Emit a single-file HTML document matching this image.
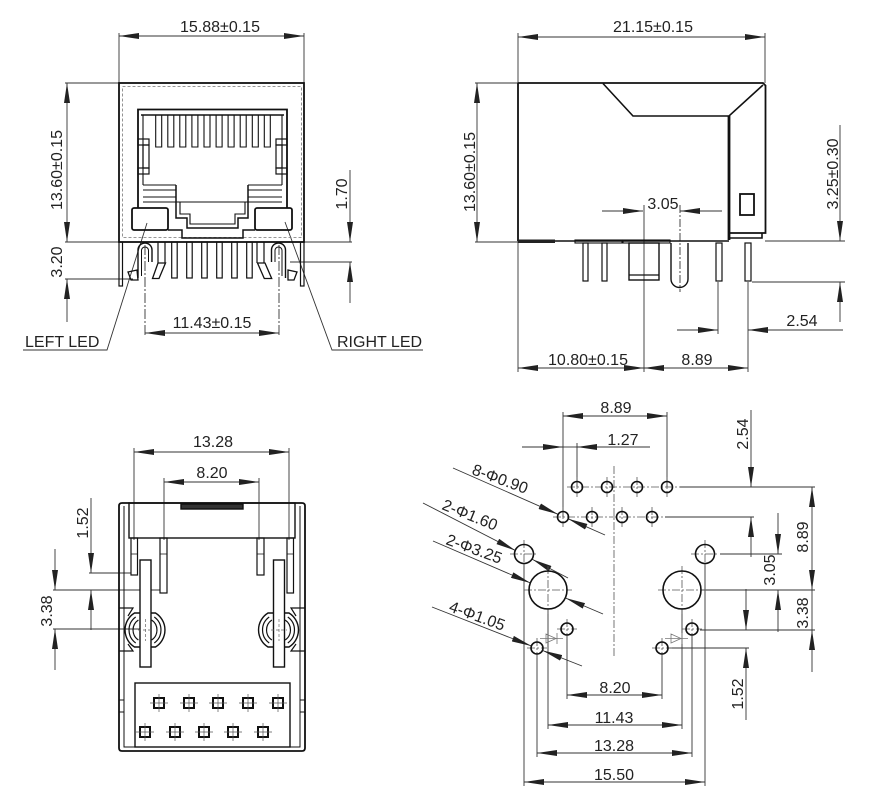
<!DOCTYPE html>
<html><head><meta charset="utf-8"><style>
html,body{margin:0;padding:0;background:#fff;}
svg{display:block;}
text{font-family:"Liberation Sans",Arial,sans-serif;font-size:16px;fill:#222;}
</style></head><body>
<svg width="871" height="801" viewBox="0 0 871 801" xmlns="http://www.w3.org/2000/svg">
<defs>
<marker id="a" viewBox="0 0 20 6" refX="20" refY="3" markerWidth="20" markerHeight="6" markerUnits="userSpaceOnUse" orient="auto-start-reverse"><path d="M0,0L20,3L0,6Z" fill="#222"/></marker>
</defs>

<!-- ================= DIMENSION LINES ================= -->
<g fill="none" stroke="#333" stroke-width="0.9">
<!-- View 1 -->
<line x1="119" y1="36" x2="304" y2="36" marker-start="url(#a)" marker-end="url(#a)"/>
<line x1="119" y1="33" x2="119" y2="83"/>
<line x1="304" y1="33" x2="304" y2="83"/>
<line x1="67" y1="83" x2="67" y2="242" marker-start="url(#a)" marker-end="url(#a)"/>
<line x1="65" y1="83" x2="119" y2="83"/>
<line x1="65" y1="242" x2="352" y2="242"/>
<line x1="67" y1="322" x2="67" y2="279" marker-end="url(#a)"/>
<line x1="65" y1="279" x2="133" y2="279"/>
<line x1="350" y1="170" x2="350" y2="242" marker-end="url(#a)"/>
<line x1="350" y1="303" x2="350" y2="262" marker-end="url(#a)"/>
<line x1="290" y1="262" x2="352" y2="262"/>
<line x1="145" y1="333" x2="279" y2="333" marker-start="url(#a)" marker-end="url(#a)"/>
<line x1="145" y1="245" x2="145" y2="336" stroke-dasharray="10,2,2,2"/>
<line x1="279" y1="245" x2="279" y2="336" stroke-dasharray="10,2,2,2"/>
<path d="M23,350 H107 L147,223"/>
<path d="M423,350 H332 L285,222"/>

<!-- View 2 -->
<line x1="518" y1="37" x2="765" y2="37" marker-start="url(#a)" marker-end="url(#a)"/>
<line x1="518" y1="33" x2="518" y2="372"/>
<line x1="765" y1="33" x2="765" y2="83"/>
<line x1="477" y1="83" x2="477" y2="242" marker-start="url(#a)" marker-end="url(#a)"/>
<line x1="475" y1="83" x2="518" y2="83"/>
<line x1="475" y1="242" x2="518" y2="242"/>
<line x1="602" y1="211" x2="643" y2="211" marker-end="url(#a)"/>
<line x1="722" y1="211" x2="680" y2="211" marker-end="url(#a)"/>
<line x1="644" y1="205" x2="644" y2="372"/>
<line x1="680" y1="205" x2="680" y2="292" stroke-dasharray="8,2,2,2"/>
<line x1="840" y1="125" x2="840" y2="241" marker-end="url(#a)"/>
<line x1="840" y1="322" x2="840" y2="282" marker-end="url(#a)"/>
<line x1="765" y1="241" x2="845" y2="241"/>
<line x1="752" y1="282" x2="845" y2="282"/>
<line x1="677" y1="330" x2="718" y2="330" marker-end="url(#a)"/>
<line x1="843" y1="330" x2="748" y2="330" marker-end="url(#a)"/>
<line x1="718" y1="282" x2="718" y2="334"/>
<line x1="748" y1="282" x2="748" y2="372"/>
<line x1="518" y1="368" x2="644" y2="368" marker-start="url(#a)" marker-end="url(#a)"/>
<line x1="644" y1="368" x2="748" y2="368" marker-start="url(#a)" marker-end="url(#a)"/>

<!-- View 3 -->
<line x1="134" y1="452" x2="289" y2="452" marker-start="url(#a)" marker-end="url(#a)"/>
<line x1="164" y1="482" x2="259" y2="482" marker-start="url(#a)" marker-end="url(#a)"/>
<line x1="134" y1="448" x2="134" y2="540"/>
<line x1="289" y1="448" x2="289" y2="540"/>
<line x1="164" y1="478" x2="164" y2="540"/>
<line x1="259" y1="478" x2="259" y2="540"/>
<line x1="91" y1="498" x2="91" y2="573" marker-end="url(#a)"/>
<line x1="91" y1="630" x2="91" y2="590" marker-end="url(#a)"/>
<line x1="89" y1="573" x2="131" y2="573"/>
<line x1="55" y1="549" x2="55" y2="590" marker-end="url(#a)"/>
<line x1="55" y1="670" x2="55" y2="629" marker-end="url(#a)"/>
<line x1="53" y1="590" x2="160" y2="590"/>
<line x1="53" y1="629" x2="143" y2="629"/>

<!-- View 4 -->
<line x1="563" y1="416" x2="667" y2="416" marker-start="url(#a)" marker-end="url(#a)"/>
<line x1="522" y1="447" x2="563" y2="447" marker-end="url(#a)"/>
<line x1="650" y1="447" x2="577" y2="447" marker-end="url(#a)"/>
<line x1="563" y1="447" x2="577" y2="447"/>
<line x1="563" y1="412" x2="563" y2="517"/>
<line x1="577" y1="443" x2="577" y2="487"/>
<line x1="667" y1="412" x2="667" y2="487"/>
<line x1="751" y1="410" x2="751" y2="487" marker-end="url(#a)"/>
<line x1="751" y1="557" x2="751" y2="517" marker-end="url(#a)"/>
<line x1="812" y1="487" x2="812" y2="590" marker-start="url(#a)" marker-end="url(#a)"/>
<line x1="812" y1="672" x2="812" y2="630" marker-end="url(#a)"/>
<line x1="812" y1="590" x2="812" y2="630"/>
<line x1="778" y1="513" x2="778" y2="554" marker-end="url(#a)"/>
<line x1="778" y1="632" x2="778" y2="590" marker-end="url(#a)"/>
<line x1="746" y1="589" x2="746" y2="630" marker-end="url(#a)"/>
<line x1="746" y1="720" x2="746" y2="648" marker-end="url(#a)"/>
<line x1="680" y1="487" x2="815" y2="487"/>
<line x1="665" y1="517" x2="754" y2="517"/>
<line x1="720" y1="554" x2="782" y2="554"/>
<line x1="702" y1="590" x2="815" y2="590"/>
<line x1="700" y1="630" x2="815" y2="630"/>
<line x1="668" y1="648" x2="749" y2="648"/>
<line x1="567" y1="695" x2="662" y2="695" marker-start="url(#a)" marker-end="url(#a)"/>
<line x1="548" y1="725" x2="682" y2="725" marker-start="url(#a)" marker-end="url(#a)"/>
<line x1="537" y1="753" x2="692" y2="753" marker-start="url(#a)" marker-end="url(#a)"/>
<line x1="524" y1="782" x2="705" y2="782" marker-start="url(#a)" marker-end="url(#a)"/>
<line x1="524" y1="564" x2="524" y2="786"/>
<line x1="537" y1="655" x2="537" y2="757"/>
<line x1="548" y1="610" x2="548" y2="729"/>
<line x1="567" y1="636" x2="567" y2="699"/>
<line x1="662" y1="655" x2="662" y2="699"/>
<line x1="682" y1="610" x2="682" y2="729"/>
<line x1="692" y1="636" x2="692" y2="757"/>
<line x1="705" y1="564" x2="705" y2="786"/>
<!-- leaders -->
<line x1="453" y1="468" x2="558" y2="514.3" marker-end="url(#a)"/>
<line x1="605" y1="535" x2="568" y2="518.7" marker-end="url(#a)"/>
<line x1="423" y1="503" x2="515.6" y2="550.6" marker-end="url(#a)"/>
<line x1="568" y1="578" x2="532.4" y2="559.4" marker-end="url(#a)"/>
<line x1="433" y1="541" x2="530.5" y2="583" marker-end="url(#a)"/>
<line x1="603" y1="614" x2="565.5" y2="598" marker-end="url(#a)"/>
<line x1="432" y1="607" x2="531.4" y2="646" marker-end="url(#a)"/>
<line x1="582" y1="666" x2="542.6" y2="650.5" marker-end="url(#a)"/>
</g>

<!-- center lines view 4 -->
<g fill="none" stroke="#555" stroke-width="0.8" stroke-dasharray="8,2,2,2">
<line x1="614" y1="466" x2="614" y2="657"/>
<line x1="567" y1="487" x2="680" y2="487"/>
<line x1="553" y1="517" x2="665" y2="517"/>
<line x1="548" y1="566" x2="548" y2="614"/>
<line x1="524" y1="590" x2="572" y2="590"/>
<line x1="682" y1="566" x2="682" y2="614"/>
<line x1="658" y1="590" x2="706" y2="590"/>
<line x1="510" y1="554" x2="538" y2="554"/>
<line x1="524" y1="540" x2="524" y2="568"/>
<line x1="691" y1="554" x2="719" y2="554"/>
<line x1="705" y1="540" x2="705" y2="568"/>
<line x1="577" y1="477" x2="577" y2="497"/><line x1="607" y1="477" x2="607" y2="497"/><line x1="637" y1="477" x2="637" y2="497"/><line x1="667" y1="477" x2="667" y2="497"/>
<line x1="563" y1="507" x2="563" y2="527"/><line x1="592" y1="507" x2="592" y2="527"/><line x1="622" y1="507" x2="622" y2="527"/><line x1="652" y1="507" x2="652" y2="527"/>
<line x1="557" y1="629" x2="577" y2="629"/><line x1="567" y1="619" x2="567" y2="639"/>
<line x1="527" y1="648" x2="547" y2="648"/><line x1="537" y1="638" x2="537" y2="658"/>
<line x1="652" y1="648" x2="672" y2="648"/><line x1="662" y1="638" x2="662" y2="658"/>
<line x1="682" y1="629" x2="702" y2="629"/><line x1="692" y1="619" x2="692" y2="639"/>
</g>

<!-- holes view 4 -->
<g fill="none" stroke="#111" stroke-width="1.6">
<circle cx="577" cy="487" r="5.5"/><circle cx="607" cy="487" r="5.5"/><circle cx="637" cy="487" r="5.5"/><circle cx="667" cy="487" r="5.5"/>
<circle cx="563" cy="517" r="5.5"/><circle cx="592" cy="517" r="5.5"/><circle cx="622" cy="517" r="5.5"/><circle cx="652" cy="517" r="5.5"/>
<circle cx="524" cy="554" r="9.5"/><circle cx="705" cy="554" r="9.5"/>
<circle cx="548" cy="590" r="19"/><circle cx="682" cy="590" r="19"/>
<circle cx="567" cy="629" r="6"/><circle cx="537" cy="648" r="6"/><circle cx="662" cy="648" r="6"/><circle cx="692" cy="629" r="6"/>
</g>
<g fill="none" stroke="#777" stroke-width="0.8">
<polygon points="546,634 546,643 556,638.5"/><line x1="557" y1="633" x2="557" y2="644"/><line x1="540" y1="638.5" x2="563" y2="638.5"/>
<polygon points="671,634 671,643 681,638.5"/><line x1="682" y1="633" x2="682" y2="644"/><line x1="665" y1="638.5" x2="688" y2="638.5"/>
</g>

<!-- ================= VIEW 1 BODY ================= -->
<g fill="none" stroke="#111" stroke-width="1.4">
<rect x="119" y="83" width="185" height="159" stroke-width="1.8"/>
<rect x="122.5" y="86.5" width="179" height="151" stroke="#777" stroke-width="0.8" stroke-dasharray="3,2"/>
<path d="M138,208 V109.5 H287 V208" stroke-width="1.8"/>
<path d="M141,115 H284" stroke-width="1.6"/>
<path d="M143,115 V185 M282,115 V185" stroke-width="1.1"/>
<path stroke-width="1.1" d="M155.7,115V147H161.7V115 M167.8,115V147H173.8V115 M179.8,115V147H185.8V115 M191.9,115V147H197.9V115 M204,115V147H210V115 M216.1,115V147H222.1V115 M228.1,115V147H234.1V115 M240.2,115V147H246.2V115 M252.3,115V147H258.3V115 M264.3,115V147H270.3V115"/>
<rect x="138" y="139" width="11" height="6" stroke-width="1.2"/>
<rect x="143" y="145" width="6" height="23" stroke-width="1.2"/>
<rect x="138" y="168" width="11" height="6" stroke-width="1.2"/>
<rect x="276" y="139" width="11" height="6" stroke-width="1.2"/>
<rect x="276" y="145" width="6" height="23" stroke-width="1.2"/>
<rect x="276" y="168" width="11" height="6" stroke-width="1.2"/>
<path stroke-width="1.1" d="M143,185H176 M143,190H176 M143,197H176 M143,202H176 M248,185H282 M248,190H282 M248,197H282 M248,202H282"/>
<path d="M176,185 V218 H187 V228 H238 V218 H248 V185" stroke-width="1.5"/>
<path d="M176,202 H248 M180,202 V214 H190 V224 H235 V214 H245 V202" stroke-width="1.1"/>
<rect x="132" y="208" width="36" height="22" rx="2" stroke-width="1.8"/>
<rect x="255" y="208" width="37" height="22" rx="2" stroke-width="1.8"/>
<path d="M168,230 H182 V238 H243 V230 H255" stroke-width="1.5"/>
<!-- pins -->
<g stroke-width="1.2">
<rect x="171.7" y="242" width="5.5" height="36"/><rect x="186.7" y="242" width="5.5" height="36"/><rect x="201.7" y="242" width="5.5" height="36"/>
<rect x="216.7" y="242" width="5.5" height="36"/><rect x="231.7" y="242" width="5.5" height="36"/><rect x="246.7" y="242" width="5.5" height="36"/>
<path d="M158,242 V263 M165,242 V263 M257,242 V263 M264,242 V263"/>
</g>
<path d="M138,278 V250 A7,7 0 0 1 152,250 V262" stroke-width="1.4"/>
<path d="M141.5,276 V250.5 A3.5,3.5 0 0 1 148.5,250.5 V262" stroke-width="1"/>
<polygon points="158,263 165.5,263 159,278.5 152.5,278.5" stroke-width="1.3"/>
<polygon points="128,272 137,270 138,280 131,280" stroke-width="1.3"/>
<path d="M271.5,262 V250 A7,7 0 0 1 285.5,250 V278" stroke-width="1.4"/>
<path d="M275,262 V250.5 A3.5,3.5 0 0 1 282,250.5 V276" stroke-width="1"/>
<polygon points="257.5,263 265,263 271.7,278.5 264.3,278.5" stroke-width="1.3"/>
<polygon points="288,270 297,272 294,280 288,280" stroke-width="1.3"/>
<rect x="119" y="242" width="3.5" height="44" stroke-width="1.2"/>
<rect x="300.5" y="242" width="3.5" height="44" stroke-width="1.2"/>
</g>

<!-- ================= VIEW 2 BODY ================= -->
<g fill="none" stroke="#111" stroke-width="1.6">
<path d="M518,241 V84 Q518,83 519,83 H763 L765.5,85.5 V233 H729" stroke-width="1.8"/>
<path d="M603,83.5 L633,116 H729 L763,85"/>
<line x1="729" y1="116" x2="729" y2="240" stroke-width="2.8"/>
<path d="M729,238 H762 V233"/>
<rect x="740" y="194" width="14" height="21" stroke-width="1.8"/>
<line x1="518" y1="241" x2="729" y2="241" stroke-width="1.6"/>
<rect x="518" y="239.5" width="37" height="3.5" fill="#222" stroke="none"/>
<rect x="575" y="240" width="47" height="3" stroke-width="1.1"/>
<rect x="623" y="240" width="47" height="3" stroke-width="1.1"/>
<rect x="583" y="243" width="5" height="38" stroke-width="1.2"/>
<rect x="602" y="243" width="5" height="38" stroke-width="1.2"/>
<rect x="716" y="243" width="6" height="38" stroke-width="1.2"/>
<rect x="745" y="243" width="6" height="38" stroke-width="1.2"/>
<rect x="629" y="243" width="30" height="37" stroke-width="1.4"/>
<line x1="629" y1="275" x2="659" y2="275" stroke-width="1.2"/>
<path d="M671,243 V279 A8.5,8.5 0 0 0 688,279 V243" stroke-width="1.4"/>
</g>

<!-- ================= VIEW 3 BODY ================= -->
<g fill="none" stroke="#111" stroke-width="1.4">
<path d="M119,506 Q119,503 122,503 H302 Q305,503 305,506 V748 Q305,751 302,751 H122 Q119,751 119,748 Z" stroke-width="1.8"/>
<path d="M124,506 V747 H300 V506" stroke-width="1"/>
<rect x="129" y="503" width="166" height="35"/>
<rect x="181" y="504" width="62" height="5" fill="#333"/>
<rect x="131" y="538" width="6.5" height="37" stroke-width="1.2"/>
<rect x="160" y="538" width="7" height="55" stroke-width="1.2"/>
<rect x="257" y="538" width="7" height="37" stroke-width="1.2"/>
<rect x="287" y="538" width="6.5" height="55" stroke-width="1.2"/>
<path d="M131,554 H137.5 M160,554 H167 M257,554 H264 M287,554 H293.5" stroke-width="0.8"/>
<path d="M119,608 H133 L128,616 M128,644 L133,651 H119" stroke-width="1.2"/>
<path d="M305,608 H291 L296,616 M296,644 L291,651 H305" stroke-width="1.2"/>
<!-- left clip -->
<path d="M134.5,613 H155.5 A20,20 0 0 1 155.5,647 H134.5 A20,20 0 0 1 134.5,613 Z" stroke-width="1.4"/>
<path d="M135.7,617 A16,16 0 0 0 135.7,643 M154.3,617 A16,16 0 0 1 154.3,643 M138.4,620 A12,12 0 0 0 138.4,640 M151.6,620 A12,12 0 0 1 151.6,640" stroke-width="1.2"/>
<rect x="140" y="560" width="11" height="107" fill="#fff"/>
<!-- right clip -->
<path d="M268,613 H289 A20,20 0 0 1 289,647 H268 A20,20 0 0 1 268,613 Z" stroke-width="1.4"/>
<path d="M269.2,617 A16,16 0 0 0 269.2,643 M287.8,617 A16,16 0 0 1 287.8,643 M271.9,620 A12,12 0 0 0 271.9,640 M285.1,620 A12,12 0 0 1 285.1,640" stroke-width="1.2"/>
<rect x="273.5" y="560" width="11" height="107" fill="#fff"/>
<path d="M145.5,619 V641 M138,630 H153 M279,619 V641 M271,630 H287" stroke="#666" stroke-width="0.7" stroke-dasharray="3,2"/>
<rect x="135" y="683" width="155" height="64"/>
<path d="M119,700 H124 M119,712 H124 M300,700 H305 M300,712 H305" stroke-width="1"/>
</g>
<g fill="none" stroke="#111">
<g stroke-width="2">
<rect x="154" y="698" width="10" height="10"/><rect x="184" y="698" width="10" height="10"/><rect x="213" y="698" width="10" height="10"/><rect x="243" y="698" width="10" height="10"/><rect x="273" y="698" width="10" height="10"/>
<rect x="140" y="727" width="10" height="10"/><rect x="170" y="727" width="10" height="10"/><rect x="199" y="727" width="10" height="10"/><rect x="228" y="727" width="10" height="10"/><rect x="258" y="727" width="10" height="10"/>
</g>
<g stroke-width="0.7" stroke="#555">
<path d="M150,703H168M159,694V712 M180,703H198M189,694V712 M209,703H227M218,694V712 M239,703H257M248,694V712 M269,703H287M278,694V712"/>
<path d="M136,732H154M145,723V741 M166,732H184M175,723V741 M195,732H213M204,723V741 M224,732H242M233,723V741 M254,732H272M263,723V741"/>
</g>
</g>

<!-- ================= TEXT ================= -->
<text x="220" y="32" text-anchor="middle">15.88±0.15</text>
<text transform="translate(62,170) rotate(-90)" text-anchor="middle">13.60±0.15</text>
<text transform="translate(62,262) rotate(-90)" text-anchor="middle">3.20</text>
<text transform="translate(347,194) rotate(-90)" text-anchor="middle">1.70</text>
<text x="212" y="328" text-anchor="middle">11.43±0.15</text>
<text x="25" y="347">LEFT LED</text>
<text x="337" y="347">RIGHT LED</text>

<text x="653" y="32" text-anchor="middle">21.15±0.15</text>
<text transform="translate(475,172) rotate(-90)" text-anchor="middle">13.60±0.15</text>
<text x="663" y="209" text-anchor="middle">3.05</text>
<text transform="translate(838,174) rotate(-90)" text-anchor="middle">3.25±0.30</text>
<text x="802" y="326" text-anchor="middle">2.54</text>
<text x="588" y="365" text-anchor="middle">10.80±0.15</text>
<text x="697" y="365" text-anchor="middle">8.89</text>

<text x="213" y="447" text-anchor="middle">13.28</text>
<text x="212" y="478" text-anchor="middle">8.20</text>
<text transform="translate(88,523) rotate(-90)" text-anchor="middle">1.52</text>
<text transform="translate(52,611) rotate(-90)" text-anchor="middle">3.38</text>

<text x="616" y="413" text-anchor="middle">8.89</text>
<text x="623" y="445" text-anchor="middle">1.27</text>
<text transform="translate(748,434) rotate(-90)" text-anchor="middle">2.54</text>
<text transform="translate(808,537) rotate(-90)" text-anchor="middle">8.89</text>
<text transform="translate(775,570) rotate(-90)" text-anchor="middle">3.05</text>
<text transform="translate(808,613) rotate(-90)" text-anchor="middle">3.38</text>
<text transform="translate(743,694) rotate(-90)" text-anchor="middle">1.52</text>
<text x="615" y="693" text-anchor="middle">8.20</text>
<text x="614" y="723" text-anchor="middle">11.43</text>
<text x="614" y="751" text-anchor="middle">13.28</text>
<text x="614" y="780" text-anchor="middle">15.50</text>
<text transform="translate(471,474) rotate(20)">8-Φ0.90</text>
<text transform="translate(441,509) rotate(22)">2-Φ1.60</text>
<text transform="translate(445,544) rotate(20)">2-Φ3.25</text>
<text transform="translate(448,611) rotate(20)">4-Φ1.05</text>
</svg>
</body></html>
